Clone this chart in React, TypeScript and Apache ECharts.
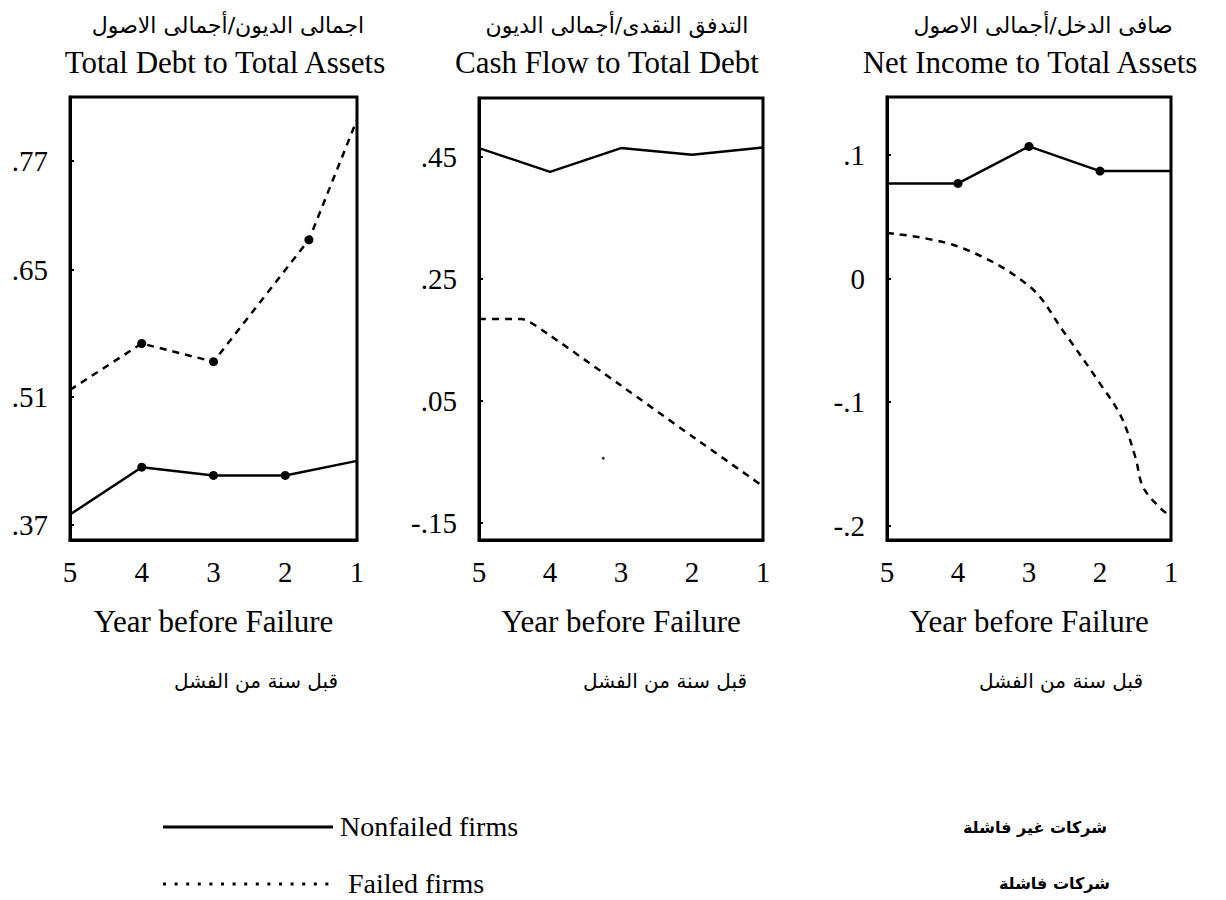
import React, { useEffect, useRef } from "react";
import * as echarts from "echarts";

// ---- data ----
const years = [5, 4, 3, 2, 1];

const panelTitlesEn = ["Total Debt to Total Assets", "Cash Flow to Total Debt", "Net Income to Total Assets"];
const panelTitlesAr = ["اجمالى الديون/أجمالى الاصول", "التدفق النقدى/أجمالى الديون", "صافى الدخل/أجمالى الاصول"];
const xNameEn = "Year before Failure";
const xNameAr = "قبل سنة من الفشل";

const debtTicks = [0.37, 0.51, 0.65, 0.77];
const cashTicks = [-0.15, 0.05, 0.25, 0.45];
const incomeTicks = [-0.2, -0.1, 0, 0.1];

const debtNonfailed = [[5, 0.381], [4, 0.433], [3, 0.424], [2, 0.424], [1, 0.44]];
const debtFailed = [[5, 0.518], [4, 0.569], [3, 0.549], [1.67, 0.683], [1, 0.815]];
const cashNonfailed = [[5, 0.464], [4, 0.425], [3, 0.464], [2, 0.453], [1, 0.465]];
const cashFailed = [[5, 0.184], [4.4, 0.184], [4, 0.157], [3, 0.075], [2, -0.008], [1, -0.09]];
const cashStray = [[3.25, -0.044]];
const incomeNonfailed = [[5, 0.077], [4, 0.077], [3, 0.107], [2, 0.087], [1, 0.087]];
const incomeFailed = [
  [5, 0.037], [4, 0.026], [3, -0.006], [2.5, -0.044], [2, -0.085],
  [1.7, -0.112], [1.5, -0.145], [1.4, -0.168], [1.2, -0.183], [1, -0.193],
];

const debtNonfailedDots = [4, 3, 2];
const debtFailedDots = [4, 3, 1.67];
const incomeNonfailedDots = [4, 3, 2];

const legendNames = ["Nonfailed firms", "Failed firms"];
const legendNamesAr = ["شركات غير فاشلة", "شركات فاشلة"];

const SERIF = "'Liberation Serif', 'Times New Roman', serif";
const ARABIC = "'DejaVu Sans', sans-serif";

function fmt(v: number) {
  if (v === 0) return "0";
  return String(Math.round(v * 100) / 100).replace("0.", ".");
}

function withDots(data: number[][], dots: number[]) {
  return data.map((d) => ({
    value: d,
    symbol: dots.includes(d[0]) ? "circle" : "none",
  }));
}

export default function App() {
  const ref = useRef<HTMLDivElement>(null);

  useEffect(() => {
    document.body.style.margin = "0";
    const chart = echarts.init(ref.current!, null, { renderer: "svg" });

    const grids = [
      { left: 70, top: 97, width: 287, height: 443 },
      { left: 479, top: 98, width: 284, height: 442 },
      { left: 887, top: 97, width: 284, height: 443 },
    ];
    const yRanges = [
      { min: 0.353, max: 0.84, ticks: debtTicks },
      { min: -0.178, max: 0.546, ticks: cashTicks },
      { min: -0.2116, max: 0.147, ticks: incomeTicks },
    ];

    const solid = { color: "#000", width: 2.5, type: "solid" as const };
    const dashed = { color: "#000", width: 2.5, type: [7, 6] as any };

    const option: any = {
      animation: false,
      backgroundColor: "#fff",
      grid: grids.map((g) => ({ ...g, show: true, borderColor: "#000", borderWidth: 3, backgroundColor: "transparent" })),
      xAxis: grids.map((_, i) => ({
        type: "value",
        gridIndex: i,
        min: 1,
        max: 5,
        interval: 1,
        inverse: true,
        name: xNameEn,
        nameLocation: "middle",
        nameGap: 66,
        nameTextStyle: { fontFamily: SERIF, fontSize: 31, color: "#000" },
        axisLine: { show: true, onZero: false, lineStyle: { color: "#000", width: 3 } },
        axisTick: { show: false },
        splitLine: { show: false },
        axisLabel: {
          fontFamily: SERIF,
          fontSize: 29,
          color: "#000",
          margin: 17,
          formatter: (v: number) => (years.includes(v) ? String(v) : ""),
        },
      })),
      yAxis: yRanges.map((r, i) => ({
        type: "value",
        gridIndex: i,
        min: r.min,
        max: r.max,
        axisLine: { show: true, onZero: false, lineStyle: { color: "#000", width: 3 } },
        axisTick: { show: true, inside: true, length: 4, lineStyle: { color: "#000", width: 2 }, customValues: r.ticks },
        splitLine: { show: false },
        axisLabel: {
          fontFamily: SERIF,
          fontSize: 29,
          color: "#000",
          margin: 22,
          customValues: r.ticks,
          formatter: (v: number) => fmt(v),
        },
      })),
      series: [
        {
          name: legendNames[0], type: "line", xAxisIndex: 0, yAxisIndex: 0,
          data: withDots(debtNonfailed, debtNonfailedDots), symbolSize: 9,
          itemStyle: { color: "#000" }, lineStyle: solid,
        },
        {
          name: legendNames[1], type: "line", xAxisIndex: 0, yAxisIndex: 0,
          data: withDots(debtFailed, debtFailedDots), symbolSize: 9,
          itemStyle: { color: "#000" }, lineStyle: dashed,
        },
        {
          name: legendNames[0], type: "line", xAxisIndex: 1, yAxisIndex: 1,
          data: cashNonfailed, symbol: "none", lineStyle: solid,
        },
        {
          name: legendNames[1], type: "line", xAxisIndex: 1, yAxisIndex: 1,
          data: cashFailed, symbol: "none", smooth: 0.2, lineStyle: dashed,
        },
        {
          name: "mark", type: "scatter", xAxisIndex: 1, yAxisIndex: 1,
          data: cashStray, symbolSize: 3, itemStyle: { color: "#000" },
        },
        {
          name: legendNames[0], type: "line", xAxisIndex: 2, yAxisIndex: 2,
          data: withDots(incomeNonfailed, incomeNonfailedDots), symbolSize: 9,
          itemStyle: { color: "#000" }, lineStyle: solid,
        },
        {
          name: legendNames[1], type: "line", xAxisIndex: 2, yAxisIndex: 2,
          data: incomeFailed, symbol: "none", smooth: 0.35, lineStyle: dashed,
        },
      ],
      graphic: [
        ...panelTitlesAr.map((t, i) => ({
          type: "text", x: [228, 617, 1043][i], y: 25,
          style: { text: t, font: `22px ${ARABIC}`, fill: "#000", align: "center", verticalAlign: "middle" },
        })),
        ...panelTitlesEn.map((t, i) => ({
          type: "text", x: [225, 607, 1030][i], y: 62,
          style: { text: t, font: `31px ${SERIF}`, fill: "#000", align: "center", verticalAlign: "middle" },
        })),
        ...[256, 665, 1061].map((x) => ({
          type: "text", x, y: 681,
          style: { text: xNameAr, font: `20px ${ARABIC}`, fill: "#000", align: "center", verticalAlign: "middle" },
        })),
        { type: "line", shape: { x1: 163, y1: 827, x2: 333, y2: 827 }, style: { stroke: "#000", lineWidth: 3 } },
        { type: "text", x: 340, y: 826, style: { text: legendNames[0], font: `28px ${SERIF}`, fill: "#000", align: "left", verticalAlign: "middle" } },
        { type: "line", shape: { x1: 163, y1: 884, x2: 337, y2: 884 }, style: { stroke: "#000", lineWidth: 3, lineDash: [3, 8.6] } },
        { type: "text", x: 348, y: 883, style: { text: legendNames[1], font: `28px ${SERIF}`, fill: "#000", align: "left", verticalAlign: "middle" } },
        { type: "text", x: 1107, y: 827, style: { text: legendNamesAr[0], font: `bold 16px ${ARABIC}`, fill: "#000", align: "right", verticalAlign: "middle" } },
        { type: "text", x: 1110, y: 883, style: { text: legendNamesAr[1], font: `bold 16px ${ARABIC}`, fill: "#000", align: "right", verticalAlign: "middle" } },
      ],
    };

    chart.setOption(option);
    return () => chart.dispose();
  }, []);

  return <div ref={ref} style={{ width: 1226, height: 900 }} />;
}
